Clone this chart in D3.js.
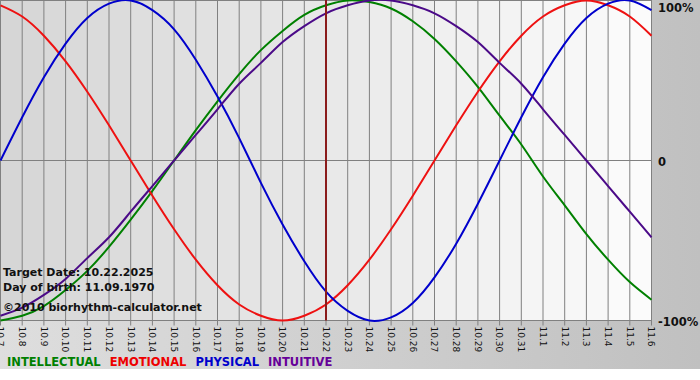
<!DOCTYPE html>
<html lang="en">
<head>
  <meta charset="UTF-8">
  <title>Biorhythm</title>
  <script src="https://d3js.org/d3.v7.min.js"></script>
  <style>
    html, body { margin: 0; padding: 0; background: #fff; }
    svg { display: block; }
  </style>
</head>
<body>
  <div id="chart"></div>
  <script>
    // day labels (month.day)
    const days = ["10.7","10.8","10.9","10.10","10.11","10.12","10.13","10.14","10.15","10.16",
      "10.17","10.18","10.19","10.20","10.21","10.22","10.23","10.24","10.25","10.26",
      "10.27","10.28","10.29","10.30","10.31","11.1","11.2","11.3","11.4","11.5","11.6"];

    // values, -1..1
    const intellectual = [-1.00,-0.97,-0.91,-0.81,-0.69,-0.54,-0.37,-0.19,0.00,0.19,
      0.37,0.54,0.69,0.81,0.91,0.97,1.00,0.99,0.95,0.87,
      0.76,0.62,0.46,0.28,0.10,-0.10,-0.28,-0.46,-0.62,-0.76,-0.87];
    const emotional = [0.97,0.90,0.78,0.62,0.43,0.22,0.00,-0.22,-0.43,-0.62,
      -0.78,-0.90,-0.97,-1.00,-0.97,-0.90,-0.78,-0.62,-0.43,-0.22,
      0.00,0.22,0.43,0.62,0.78,0.90,0.97,1.00,0.97,0.90,0.78];
    const physical = [0.00,0.27,0.52,0.73,0.89,0.98,1.00,0.94,0.82,0.63,
      0.40,0.14,-0.14,-0.40,-0.63,-0.82,-0.94,-1.00,-0.98,-0.89,
      -0.73,-0.52,-0.27,0.00,0.27,0.52,0.73,0.89,0.98,1.00,0.94];
    const intuitive = [-0.97,-0.92,-0.84,-0.74,-0.61,-0.48,-0.32,-0.16,0.00,0.16,
      0.32,0.48,0.61,0.74,0.84,0.92,0.97,1.00,1.00,0.97,
      0.92,0.84,0.74,0.61,0.48,0.32,0.16,0.00,-0.16,-0.32,-0.48];

    const series = [
      { name: "INTELLECTUAL", values: intellectual, color: "#008000", legend: "#008000" },
      { name: "EMOTIONAL", values: emotional, color: "#ee1111", legend: "#ee0000" },
      { name: "PHYSICAL", values: physical, color: "#0000cc", legend: "#0000cc" },
      { name: "INTUITIVE", values: intuitive, color: "#4b0a88", legend: "#660099" }
    ];
    const targetDay = "10.22";
    const infoLines = ["Target Date: 10.22.2025", "Day of birth: 11.09.1970", "\u00a92010 biorhythm-calculator.net"];
    const yTicks = [[1, "100%"], [0, "0"], [-1, "-100%"]];

    const W = 700, H = 380;
    const plotRight = 651.5, plotBottom = 320.5;

    const svg = d3.select('#chart').append('svg')
      .attr('width', W).attr('height', H)
      .style('font-family', '"DejaVu Sans", Verdana, sans-serif');

    const defs = svg.append('defs');
    const bg = defs.append('linearGradient').attr('id', 'bg')
      .attr('x1', 0).attr('x2', 1).attr('y1', 0).attr('y2', 0);
    bg.append('stop').attr('offset', 0).attr('stop-color', '#dedede');
    bg.append('stop').attr('offset', 1).attr('stop-color', '#c0c0c0');

    svg.append('rect').attr('width', W).attr('height', 369).attr('fill', 'url(#bg)');

    const x = d3.scalePoint().domain(days).range([0.5, plotRight]);
    const y = d3.scaleLinear().domain([-1, 1]).range([plotBottom, 0.5]);

    // shaded columns, darker on the left
    const shade = d3.scaleLinear().domain([0, days.length - 2]).range(['#d6d6d6', '#fbfbfb']);
    svg.append('g').selectAll('rect')
      .data(days.slice(0, -1))
      .join('rect')
      .attr('x', d => x(d))
      .attr('y', 0)
      .attr('width', x.step() + 0.5)
      .attr('height', plotBottom)
      .attr('fill', (d, i) => shade(i));

    // vertical grid + ticks
    svg.append('g').selectAll('line')
      .data(days)
      .join('line')
      .attr('x1', d => x(d)).attr('x2', d => x(d))
      .attr('y1', 0).attr('y2', plotBottom + 5)
      .attr('stroke', '#808080').attr('stroke-width', 1);

    // horizontal lines: top, zero, bottom
    svg.append('g').selectAll('line')
      .data([1, 0, -1])
      .join('line')
      .attr('x1', 0).attr('x2', plotRight)
      .attr('y1', d => y(d)).attr('y2', d => y(d))
      .attr('stroke', '#808080').attr('stroke-width', 1);

    const line = d3.line()
      .x((d, i) => x(days[i]))
      .y(d => y(d))
      .curve(d3.curveNatural);

    svg.append('g').selectAll('path')
      .data(series)
      .join('path')
      .attr('d', d => line(d.values))
      .attr('fill', 'none')
      .attr('stroke', d => d.color)
      .attr('stroke-width', 2);

    // target date marker
    svg.append('line')
      .attr('x1', x(targetDay)).attr('x2', x(targetDay))
      .attr('y1', 0).attr('y2', plotBottom)
      .attr('stroke', '#8b1c1c').attr('stroke-width', 2);

    // info text
    svg.append('g').selectAll('text')
      .data(infoLines)
      .join('text')
      .attr('x', 3)
      .attr('y', (d, i) => [276, 291, 311][i])
      .attr('font-size', 11)
      .attr('font-weight', 'bold')
      .attr('fill', '#111')
      .text(d => d);

    // date labels
    svg.append('g').selectAll('text')
      .data(days)
      .join('text')
      .attr('transform', d => `translate(${x(d)},${plotBottom + 6}) rotate(90)`)
      .attr('dy', '0.35em')
      .attr('font-size', 9)
      .attr('fill', '#111')
      .text(d => d);

    // right side percentages
    svg.append('g').selectAll('text')
      .data(yTicks)
      .join('text')
      .attr('x', 658)
      .attr('y', d => y(d[0]) + 4)
      .attr('font-size', 11.5)
      .attr('font-weight', 'bold')
      .attr('fill', '#111')
      .attr('dy', d => d[0] === 1 ? 7 : 1)
      .text(d => d[1]);

    // legend
    const legend = svg.append('text')
      .attr('x', 7).attr('y', 366)
      .attr('font-size', 11.5)
      .attr('font-weight', 'bold');
    legend.selectAll('tspan')
      .data(series)
      .join('tspan')
      .attr('fill', d => d.legend)
      .attr('dx', (d, i) => i ? 9 : 0)
      .text(d => d.name);
  </script>
</body>
</html>
